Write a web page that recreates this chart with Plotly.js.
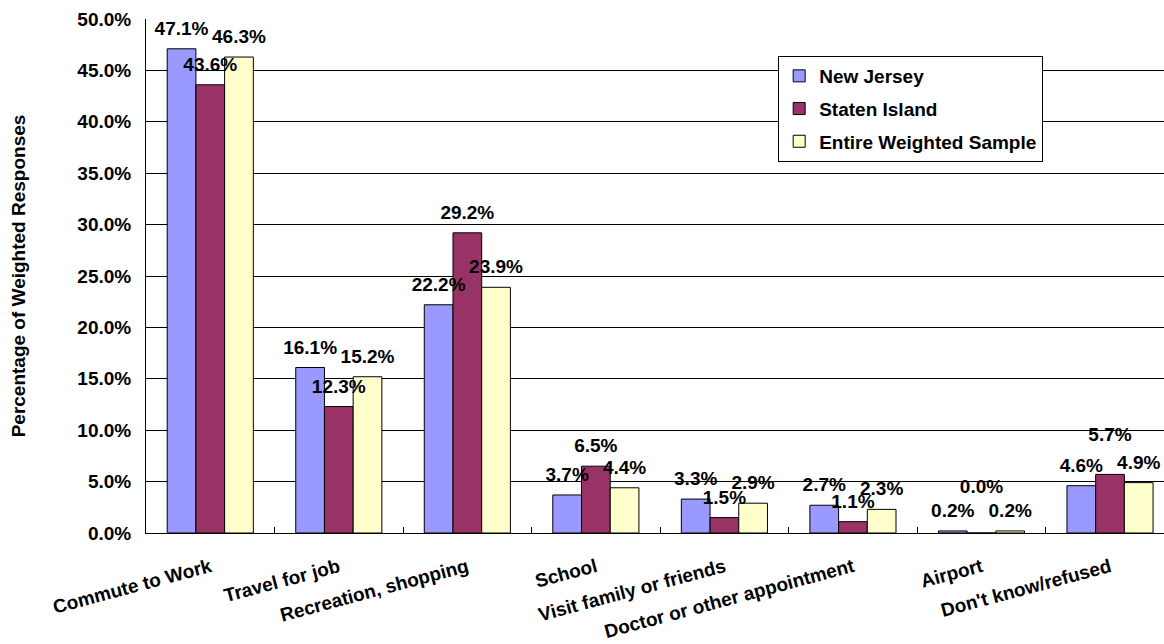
<!DOCTYPE html>
<html>
<head>
<meta charset="utf-8">
<script src="https://cdn.plot.ly/plotly-3.0.1.min.js"></script>
<style>html,body{margin:0;padding:0;background:#fff;}#chart{width:1164px;height:644px;}</style>
</head>
<body>
<div id="chart"></div>
<script>
const categories = ["Commute to Work", "Travel for job", "Recreation, shopping", "School",
  "Visit family or friends", "Doctor or other appointment", "Airport", "Don't know/refused"];
const newJersey = [47.1, 16.1, 22.2, 3.7, 3.3, 2.7, 0.2, 4.6];
const statenIsland = [43.6, 12.3, 29.2, 6.5, 1.5, 1.1, 0.0, 5.7];
const entireSample = [46.3, 15.2, 23.9, 4.4, 2.9, 2.3, 0.2, 4.9];
const seriesNames = ["New Jersey", "Staten Island", "Entire Weighted Sample"];
const seriesColors = ["#9999FF", "#993366", "#FFFFCC"];

// style: extra lift (px) of individual data labels, as in the reference
const labelLift = [
  [0, 0, 0, 0, 0, 0, 0, 0],
  [0, 0, 0, 0, 0, 0, 26, 20],
  [0, 0, 0, 0, 0, 0, 0, 0]
];

const FONT = "Liberation Sans, Arial, sans-serif";
const FS = 19;
const GAP = 0.33;
const series = [newJersey, statenIsland, entireSample];

const barTraces = series.map((vals, i) => ({
  type: "bar",
  name: seriesNames[i],
  legendgroup: "g" + i,
  offsetgroup: "g" + i,
  x: categories,
  y: vals,
  marker: {color: seriesColors[i], line: {color: "#000", width: 1}},
  hoverinfo: "skip"
}));

const baseMarker = 13;
const labelTraces = series.map((vals, i) => ({
  type: "scatter",
  mode: "markers+text",
  showlegend: false,
  offsetgroup: "g" + i,
  x: categories,
  y: vals,
  text: vals.map(v => v.toFixed(1) + "%"),
  textposition: "top center",
  textfont: {family: FONT, size: FS, color: "#000", weight: "bold"},
  marker: {size: labelLift[i].map(l => baseMarker + 1.6 * l), opacity: 0},
  cliponaxis: false,
  hoverinfo: "skip"
}));

const layout = {
  width: 1164, height: 644,
  margin: {l: 146, r: 0, t: 19, b: 111},
  paper_bgcolor: "#fff", plot_bgcolor: "#fff",
  barmode: "group",
  bargap: GAP, bargroupgap: 0,
  scattermode: "group",
  scattergap: GAP,
  font: {family: FONT, size: FS, color: "#000"},
  showlegend: true,
  legend: {
    x: 0.621, y: 0.928, xanchor: "left", yanchor: "top",
    bgcolor: "#fff", bordercolor: "#000", borderwidth: 1,
    font: {family: FONT, size: FS, color: "#000", weight: "bold"},
    traceorder: "grouped", tracegroupgap: 5
  },
  xaxis: {
    type: "category",
    range: [-0.5, 7.42], autorange: false,
    showline: true, linecolor: "#000", linewidth: 1,
    ticks: "inside", tickson: "boundaries", ticklen: 6, tickcolor: "#000",
    tickangle: -15,
    ticklabelstandoff: 15,
    tickfont: {family: FONT, size: FS, color: "#000", weight: "bold"},
    showgrid: false
  },
  yaxis: {
    range: [0, 50], autorange: false,
    dtick: 5, tickformat: ".1f", ticksuffix: "%",
    showline: true, linecolor: "#000", linewidth: 1,
    showgrid: true, gridcolor: "#000", gridwidth: 1,
    ticks: "", zeroline: false,
    ticklabelstandoff: 10,
    tickfont: {family: FONT, size: FS, color: "#000", weight: "bold"},
    title: {text: "Percentage of Weighted Responses", standoff: 46,
      font: {family: FONT, size: FS, color: "#000", weight: "bold"}}
  }
};

Plotly.newPlot("chart", barTraces.concat(labelTraces), layout, {displayModeBar: false, staticPlot: true});
</script>
</body>
</html>
